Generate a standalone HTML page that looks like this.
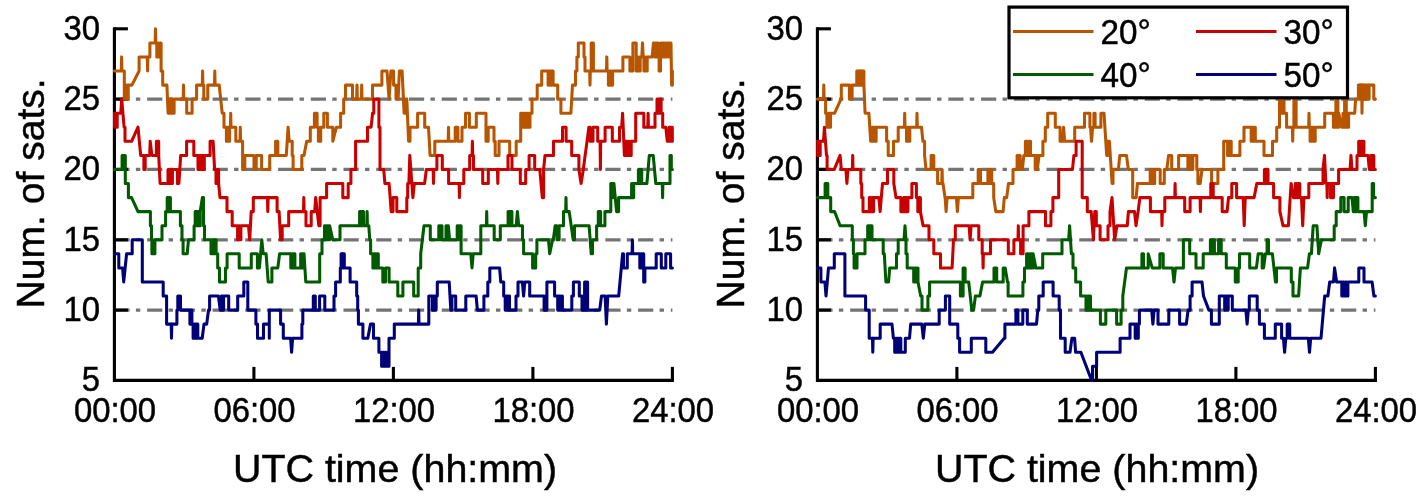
<!DOCTYPE html>
<html><head><meta charset="utf-8"><title>Number of satellites</title>
<style>
html,body{margin:0;padding:0;background:#fff;}
svg{display:block}
text{font-family:"Liberation Sans",Arial,sans-serif;fill:#000;stroke:#000;stroke-width:0.45px}
</style></head><body>
<svg width="1425" height="499" viewBox="0 0 1425 499">
<rect width="1425" height="499" fill="#fff"/>
<line x1="114.4" y1="310.1" x2="672.4" y2="310.1" stroke="#747474" stroke-width="3.2" stroke-dasharray="15.2 6.3 4.4 6.83"/>
<line x1="114.4" y1="239.8" x2="672.4" y2="239.8" stroke="#747474" stroke-width="3.2" stroke-dasharray="15.2 6.3 4.4 6.83"/>
<line x1="114.4" y1="169.4" x2="672.4" y2="169.4" stroke="#747474" stroke-width="3.2" stroke-dasharray="15.2 6.3 4.4 6.83"/>
<line x1="114.4" y1="99.1" x2="672.4" y2="99.1" stroke="#747474" stroke-width="3.2" stroke-dasharray="15.2 6.3 4.4 6.83"/>
<path d="M114.4 27.25V380.4H673.9499999999999" fill="none" stroke="#000" stroke-width="3.1"/>
<line x1="114.4" y1="310.1" x2="127.9" y2="310.1" stroke="#000" stroke-width="3.1"/>
<line x1="114.4" y1="239.8" x2="127.9" y2="239.8" stroke="#000" stroke-width="3.1"/>
<line x1="114.4" y1="169.4" x2="127.9" y2="169.4" stroke="#000" stroke-width="3.1"/>
<line x1="114.4" y1="99.1" x2="127.9" y2="99.1" stroke="#000" stroke-width="3.1"/>
<line x1="114.4" y1="28.8" x2="127.9" y2="28.8" stroke="#000" stroke-width="3.1"/>
<path d="M114.4 71.0H120.3H121.3L121.6 56.9L121.9 71.0H124.3V99.1H125.7V85.1H126.8V99.1H128.2V85.1H131.9L139.1 71.0V56.9H147.3L147.6 71.0L147.9 56.9H149.9V42.9H155.2L155.5 28.8L155.8 42.9H156.8V56.9H157.8V42.9H158.9V56.9H160.0V42.9H161.1V71.0H162.7V85.1H166.9L168.1 113.2H169.4V99.1H170.5V113.2H171.5V99.1H172.6V113.2H174.1V99.1H183.2L183.5 85.1L183.8 99.1H186.7V113.2H192.1V99.1H196.6V85.1H202.3L202.6 71.0L202.9 85.1H203.8V99.1H207.8V85.1H214.5L214.8 71.0L215.1 85.1H219.2L222.2 113.2H224.0V127.2H226.4V141.3H227.5V127.2H228.6V141.3H229.6V127.2H230.4L230.7 113.2L231.0 127.2H235.8V141.3H240.0L240.3 127.2L240.6 141.3H242.6V169.4H244.8V155.4H254.0V169.4H256.2V155.4H261.6V169.4H269.7V155.4H275.6V141.3H277.8V155.4H286.3L288.1 127.2L289.2 141.3H292.2V155.4H293.1V169.4H301.8V155.4H304.0L306.7 141.3H310.3V127.2H314.4V113.2H317.1V127.2H318.4V141.3H320.7V127.2H323.8V113.2H327.4V127.2H332.8V141.3L336.4 127.2H340.6V113.2H343.7V99.1H345.5V85.1H352.5V99.1H356.7L357.0 85.1L357.3 99.1H361.4L361.7 85.1L362.0 99.1H372.5V85.1H381.9V71.0H387.0L389.1 99.1L390.9 71.0H393.1H393.6V85.1H396.0V99.1H398.1L399.4 71.0H402.1L404.1 113.2H405.0V99.1H406.8L408.6 141.3H410.0V127.2H417.6V113.2H424.7V127.2H428.5L430.1 155.4H434.8V141.3H448.2L448.5 127.2L448.8 141.3H455.2V127.2H457.9V141.3H462.0V127.2H465.5V113.2H469.4V127.2H476.3V113.2H486.0V141.3H488.2V127.2H494.0V141.3H495.2V155.4H499.0V141.3H509.7V155.4H516.2V141.3H520.7V113.2H523.0V127.2H524.4V113.2H525.8V127.2H527.2V113.2H528.6V127.2H530.0V113.2H532.0V99.1H537.2V85.1H541.7V71.0H548.1V85.1H549.3V71.0H550.5V85.1H551.7V71.0H553.1V85.1H557.7V99.1H560.9V113.2H570.9L572.5 85.1H574.1H575.5V71.0H576.9V56.9H578.3V42.9H584.0V56.9H585.0V71.0H589.7L590.0 85.1L590.3 71.0H591.2V42.9H593.4V71.0H606.5L606.8 56.9L607.1 71.0H608.4V85.1H609.8V71.0H611.0V85.1H612.6V71.0H622.9V56.9H623.0H629.9V71.0H632.9V42.9H636.2V71.0H638.1V56.9H639.2V71.0H640.2V56.9H641.8L642.5 42.9L643.2 56.9H643.9V71.0H645.1V56.9H645.9V71.0H647.2V56.9H652.1L653.5 42.9H654.6V56.9H655.4V42.9H656.3V56.9H657.1V42.9H658.0V56.9H659.1V71.0H660.5V42.9H661.6V56.9H662.5V42.9H663.3V56.9H664.1V42.9H665.0V56.9H666.1V42.9H668.6V56.9H669.5V42.9H670.3V56.9H671.0V42.9L671.6 85.1H672.4V71.0" fill="none" stroke="#b85500" stroke-width="3.05" stroke-linejoin="round" stroke-linecap="round"/>
<path d="M114.4 113.2H114.7V127.2H115.6V113.2H116.3V127.2H117.2V113.2H120.8L121.7 99.1L124.1 127.2H125.0V141.3H131.6L138.0 127.2L140.7 155.4H143.9V169.4H145.2V155.4H149.7L150.2 141.3L151.9 155.4H156.4V141.3H158.7V155.4L160.1 183.5H168.0V169.4H169.1V183.5H170.2V169.4H171.3V183.5H172.4V169.4H177.4V183.5H178.9L180.7 155.4H186.6V141.3H193.8V155.4H198.0V169.4H199.4V155.4H200.5V169.4H201.8V155.4H203.0V169.4H204.3V155.4H210.1V141.3H213.1L214.6 169.4H216.0V183.5H217.1V169.4H218.6V183.5L220.0 197.6H225.8H227.0V211.6H232.2V225.7H237.6V239.8H238.7V225.7H239.8V239.8H240.9V225.7H248.5L249.7 239.8L251.2 211.6H253.3V197.6H267.5L267.8 211.6L268.1 197.6H277.1V211.6H279.1L280.6 239.8H282.2V225.7H288.7V211.6H303.5L303.8 197.6L304.1 211.6H306.0V225.7H311.2V211.6H314.7L315.7 197.6L318.8 225.7H320.1V197.6H326.6V183.5H342.8V197.6H348.2V183.5H350.9V169.4H355.6V141.3H367.5V127.2H371.1L372.6 113.2H373.8V99.1H378.9V127.2H380.0V169.4H383.7L384.9 183.5H389.1L391.2 211.6H393.0V197.6H396.8V211.6H406.8V197.6H407.7V183.5H408.9L409.8 155.4L412.9 197.6L414.3 183.5H424.6L426.4 169.4H433.2L433.5 183.5L433.8 169.4H436.9V155.4H442.3V169.4H448.6V183.5H459.1L459.4 197.6L459.7 183.5H463.8V169.4H469.7V155.4H472.1L472.4 141.3L472.7 155.4H473.5V169.4H482.7V183.5H488.3V169.4H497.5L497.8 183.5L498.1 169.4H508.0V155.4H512.0V169.4H520.3V183.5H525.7V169.4H529.1V155.4H534.7V169.4H539.8L542.3 197.6H543.6V169.4L545.0 155.4H553.5V141.3H562.5V127.2H566.1V141.3H571.7V155.4H578.9V169.4L581.1 183.5L583.3 169.4L588.9 127.2H590.1V141.3H593.0V127.2H597.7V141.3H600.1L600.4 169.4L600.7 141.3H605.1V127.2H612.3V141.3H619.5V127.2H621.7L622.6 113.2L624.4 155.4H625.7V141.3H627.5V155.4H628.8V141.3H629.7V155.4H631.2V141.3H635.7V113.2H643.8V127.2H647.8L648.1 113.2L648.4 127.2H655.0V113.2H657.0V99.1H658.2V113.2H659.3V99.1H661.1V113.2H662.7V127.2H665.8L667.3 141.3H669.1V127.2H670.5V141.3H671.2V127.2H672.3V141.3H672.4" fill="none" stroke="#c80000" stroke-width="3.05" stroke-linejoin="round" stroke-linecap="round"/>
<path d="M114.4 169.4H122.1V155.4H123.2V169.4H124.1V155.4H125.3V183.5H128.4V197.6H131.6L138.0 211.6H149.7H150.4V225.7H151.5V239.8H151.9V253.8H154.9V239.8H162.0V225.7H165.6V211.6H167.2V197.6H168.3V211.6H169.4V197.6H170.4V211.6H180.4V225.7H182.0V239.8H183.1V253.8H187.2L188.5 239.8H194.1V225.7H195.2V211.6H196.6V225.7H197.9V211.6H199.1V225.7H200.2V211.6L202.4 197.6H203.5V225.7H204.5V239.8H210.1H211.0V253.8H212.5V239.8H213.7V253.8H215.0V239.8H216.1V253.8H217.7V267.9H219.5V282.0H225.5V267.9H227.1V253.8H239.2V267.9H251.3V253.8H257.4V267.9H259.4L261.8 239.8L263.2 253.8H266.1L268.2 282.0H271.9V267.9H277.8L279.6 253.8H290.8V267.9H291.9V253.8H293.0V267.9H294.0V253.8H294.9V267.9H300.7V253.8H302.2V267.9H303.2V253.8H304.0L305.8 282.0H319.7V253.8H322.0V239.8H324.5V225.7H326.0V239.8H327.1V225.7H328.3V239.8H329.6V225.7L332.8 239.8H340.0V225.7H359.6V211.6H360.8V225.7H361.9V211.6H363.5V225.7H366.8L367.1 211.6L367.4 225.7H368.8L369.8 239.8H370.6V253.8H372.9V267.9H374.2V253.8H375.6V267.9H376.7V253.8H378.3V267.9H382.8V282.0H385.5V267.9H389.1V282.0H397.8V296.0H402.9V282.0H413.7V296.0H418.2V267.9H420.7V253.8L424.0 225.7H430.3V239.8H438.8V225.7H440.2V239.8H441.1V225.7H442.0V239.8H446.0V225.7H447.4V239.8H448.3V225.7L449.6 239.8H457.2V225.7H458.4V239.8H459.5V225.7H461.1V253.8H470.8L472.0 267.9L473.2 253.8H480.8V225.7H486.4L486.7 211.6L487.0 225.7H494.2V239.8H500.3V225.7H508.1V211.6H509.7V225.7H510.4V211.6H511.9V225.7H516.2L517.4 211.6L518.7 225.7H522.5V239.8H523.6V253.8H532.6V267.9H535.7V253.8H536.9V239.8H548.5L549.7 253.8L552.6 239.8H553.3L555.2 225.7H557.0V239.8H559.1V225.7H563.5V211.6H565.7L566.0 197.6L566.3 211.6H569.2L573.2 239.8H574.5V225.7H589.1L591.2 253.8H592.5V239.8H596.6V225.7H598.3V211.6H600.6V225.7H604.9V211.6H609.4H610.8V183.5H612.1V197.6H613.0V183.5H613.9L616.6 211.6H618.6V197.6H631.6V183.5H632.7V197.6H633.7V183.5H638.4V169.4H639.5V183.5H640.4V169.4H641.7V183.5H646.9L649.3 155.4H653.2L655.8 183.5H662.3L662.6 197.6L662.9 183.5H670.0V155.4H671.3V169.4H672.4" fill="none" stroke="#005a00" stroke-width="3.05" stroke-linejoin="round" stroke-linecap="round"/>
<path d="M114.4 253.8H118.8V267.9H122.6L123.7 282.0L126.6 253.8H132.2V239.8H142.3V282.0H163.2V296.0H166.6V324.1H171.2L171.5 338.2L171.8 324.1H176.9V310.1H177.8V296.0H180.5V310.1H189.9V324.1H191.0V310.1H191.9V324.1H193.1V338.2H194.4V324.1H195.5V338.2H196.8V324.1H197.8V338.2H202.2L204.0 324.1H206.7L208.5 310.1H209.6V296.0H218.4L220.2 310.1H221.3V296.0H222.4V310.1H223.6V296.0H228.7V310.1H237.7V296.0H243.8V282.0H247.8V310.1H255.9V324.1H257.5V338.2H263.5V324.1H269.3V310.1V324.1V338.2V324.1V310.1H280.6V324.1H283.3V338.2H290.6L291.6 352.3L292.6 338.2H301.9V324.1H302.8V310.1H313.3V296.0H315.3V310.1H319.6V296.0H324.8V310.1H334.0V296.0H335.6V282.0H340.3V267.9H341.1V253.8H342.1V267.9H343.0V253.8H344.3V267.9H350.1V282.0H356.7V296.0H357.7V310.1H358.4V324.1H362.9V338.2H367.8L370.5 324.1H373.5V338.2H378.9V352.3H381.6V366.3H382.9V352.3H383.8V366.3H384.9V352.3H386.0V366.3H387.1V352.3H388.0V366.3H389.0V338.2H394.3V324.1H418.4L418.7 310.1L419.0 324.1H428.8V296.0H432.4V310.1H433.7V296.0H435.0V310.1H436.1V296.0H437.3V282.0H449.2L450.8 310.1H451.9V296.0H455.7V310.1H465.8V296.0H476.1L477.4 310.1H483.9V296.0H487.8V282.0H489.8V267.9H499.6L500.8 282.0H503.7V296.0H505.2V310.1H506.4V296.0H507.5V310.1H508.6V296.0H509.5V310.1H516.0V296.0H518.0V282.0H522.4L523.6 296.0L524.8 282.0H529.7V296.0H544.1V310.1H545.2V296.0H546.1V310.1H546.9V282.0H554.6V296.0H557.7V310.1H558.9V296.0H560.0V310.1H561.1V296.0H562.4V310.1H571.8V296.0H573.4V282.0H579.3V296.0H582.0V310.1H583.1V296.0H584.0V310.1H584.6V282.0H585.6V310.1H586.5V282.0H587.6V310.1H599.7L601.5 296.0H605.1L606.4 324.1L607.8 296.0H618.7L622.6 253.8H623.5V267.9H627.3V253.8H632.1L632.4 239.8L632.7 253.8H639.8V267.9H640.8V253.8H641.9V267.9H643.0V253.8H643.7V282.0H644.9V267.9H656.2V253.8H661.3V267.9H665.8V253.8H670.6V267.9H672.4" fill="none" stroke="#000078" stroke-width="3.05" stroke-linejoin="round" stroke-linecap="round"/>
<text transform="translate(100.1 391.1) scale(0.936 1)" font-size="35.1" text-anchor="end">5</text>
<text transform="translate(100.1 320.8) scale(0.936 1)" font-size="35.1" text-anchor="end">10</text>
<text transform="translate(100.1 250.5) scale(0.936 1)" font-size="35.1" text-anchor="end">15</text>
<text transform="translate(100.1 180.1) scale(0.936 1)" font-size="35.1" text-anchor="end">20</text>
<text transform="translate(100.1 109.8) scale(0.936 1)" font-size="35.1" text-anchor="end">25</text>
<text transform="translate(100.1 39.5) scale(0.936 1)" font-size="35.1" text-anchor="end">30</text>
<text transform="translate(115.0 421.8) scale(0.936 1)" font-size="35.1" text-anchor="middle">00:00</text>
<line x1="253.9" y1="380.4" x2="253.9" y2="366.9" stroke="#000" stroke-width="3.1"/>
<text transform="translate(254.5 421.8) scale(0.936 1)" font-size="35.1" text-anchor="middle">06:00</text>
<line x1="393.4" y1="380.4" x2="393.4" y2="366.9" stroke="#000" stroke-width="3.1"/>
<text transform="translate(394.0 421.8) scale(0.936 1)" font-size="35.1" text-anchor="middle">12:00</text>
<line x1="532.9" y1="380.4" x2="532.9" y2="366.9" stroke="#000" stroke-width="3.1"/>
<text transform="translate(533.5 421.8) scale(0.936 1)" font-size="35.1" text-anchor="middle">18:00</text>
<line x1="672.4" y1="380.4" x2="672.4" y2="366.9" stroke="#000" stroke-width="3.1"/>
<text transform="translate(673.0 421.8) scale(0.936 1)" font-size="35.1" text-anchor="middle">24:00</text>
<text transform="translate(395.0 481.8) scale(1.035 1)" font-size="38.1" text-anchor="middle">UTC time (hh:mm)</text>
<text transform="translate(43.8 193.4) rotate(-90) scale(1.026 1)" font-size="38.1" text-anchor="middle">Num. of sats.</text>
<line x1="817.4" y1="310.1" x2="1375.4" y2="310.1" stroke="#747474" stroke-width="3.2" stroke-dasharray="15.2 6.3 4.4 6.83"/>
<line x1="817.4" y1="239.8" x2="1375.4" y2="239.8" stroke="#747474" stroke-width="3.2" stroke-dasharray="15.2 6.3 4.4 6.83"/>
<line x1="817.4" y1="169.4" x2="1375.4" y2="169.4" stroke="#747474" stroke-width="3.2" stroke-dasharray="15.2 6.3 4.4 6.83"/>
<line x1="817.4" y1="99.1" x2="1375.4" y2="99.1" stroke="#747474" stroke-width="3.2" stroke-dasharray="15.2 6.3 4.4 6.83"/>
<path d="M817.4 27.25V380.4H1376.95" fill="none" stroke="#000" stroke-width="3.1"/>
<line x1="817.4" y1="310.1" x2="830.9" y2="310.1" stroke="#000" stroke-width="3.1"/>
<line x1="817.4" y1="239.8" x2="830.9" y2="239.8" stroke="#000" stroke-width="3.1"/>
<line x1="817.4" y1="169.4" x2="830.9" y2="169.4" stroke="#000" stroke-width="3.1"/>
<line x1="817.4" y1="99.1" x2="830.9" y2="99.1" stroke="#000" stroke-width="3.1"/>
<line x1="817.4" y1="28.8" x2="830.9" y2="28.8" stroke="#000" stroke-width="3.1"/>
<path d="M817.4 99.1H823.5L823.8 85.1L824.1 99.1H825.6V113.2H826.9V127.2H828.2V113.2H829.2V127.2H830.5V113.2H834.6L841.0 99.1H841.3V85.1H849.4V99.1H852.1V85.1H856.8V71.0H857.9V85.1H858.8V71.0H859.9V85.1H860.8V71.0H861.9V85.1H862.8V71.0H863.9V85.1L865.1 113.2H868.9L870.7 141.3H872.0V127.2H873.1V141.3H874.2V127.2H875.2V141.3H876.1V127.2H886.6V141.3H888.2V155.4H893.5V141.3H898.2V127.2H904.4L904.7 113.2L905.0 127.2H906.5V141.3H907.6V127.2H908.5V141.3H909.8V127.2H916.7L917.0 113.2L917.3 127.2H921.5L922.9 141.3H924.6V155.4L926.0 169.4H931.1V155.4H933.8V169.4H937.6V183.5H941.8L942.1 169.4L942.4 183.5H943.0L945.0 197.6H945.1L946.1 211.6L947.1 197.6H956.4L957.4 211.6L958.4 197.6H972.8V183.5H978.2V169.4H980.5V183.5H987.9V169.4H989.2V183.5H990.3V169.4H991.7V183.5H993.7V197.6L995.8 211.6H1003.1L1004.3 197.6H1006.7L1008.5 183.5H1013.0V169.4H1017.1V155.4H1018.2V169.4H1019.1V155.4H1020.2V169.4H1022.4L1023.8 155.4H1025.4V141.3H1026.7V155.4H1027.8V141.3H1028.9V155.4H1029.8V141.3H1030.5V155.4H1035.2V169.4H1036.4V155.4H1037.3V169.4L1039.1 155.4H1042.9V141.3H1045.3V127.2H1047.7V113.2H1055.3V127.2H1060.1V141.3H1062.6L1063.6 127.2L1064.6 141.3H1074.7V127.2H1084.5V113.2H1089.9V127.2H1090.6L1091.5 141.3L1092.6 127.2H1093.9V113.2H1095.1V127.2H1100.9V113.2H1104.0L1106.7 155.4H1107.6V141.3H1109.4L1112.1 183.5H1113.0V169.4H1118.4L1119.8 155.4H1126.5L1128.3 169.4H1132.7V197.6H1136.2L1137.4 183.5H1150.2V169.4H1151.5V183.5H1152.6V169.4H1153.7V183.5H1154.7V169.4H1160.2V183.5H1164.3V169.4H1166.8L1168.6 155.4H1171.7V169.4H1178.6V155.4H1187.9V169.4H1189.0V155.4H1190.1V169.4H1191.2V155.4H1192.1V169.4H1192.8V155.4H1196.8V169.4H1197.9V183.5H1200.2L1202.0 169.4H1211.6V183.5H1217.9V169.4H1223.7V141.3H1227.6V155.4H1228.7V141.3H1229.8V155.4H1230.5V141.3H1231.2V155.4H1239.9V141.3H1244.0V127.2H1251.2V141.3H1252.3V127.2H1253.4V141.3H1254.4V127.2H1255.3V141.3H1264.0V155.4H1272.5V141.3H1276.7V127.2H1279.5V99.1H1281.5V113.2H1282.6V99.1H1284.0V113.2H1286.6V127.2H1292.4L1292.7 141.3L1293.0 127.2H1293.9V99.1H1296.1V127.2H1308.7L1309.0 113.2L1309.3 127.2H1310.1V141.3H1311.3V127.2H1312.1V141.3H1313.2V127.2H1314.1V141.3H1315.2V127.2H1324.7V113.2H1333.4V127.2H1334.3V113.2H1335.1V127.2H1335.9V99.1H1337.9V127.2H1338.8V113.2L1341.8 127.2H1343.0V113.2H1343.9V127.2H1344.6V99.1H1346.3V127.2H1347.2V113.2H1348.0V127.2H1348.6V113.2H1354.7L1355.6 99.1H1358.4V85.1H1359.4V99.1H1360.1V85.1H1360.8V99.1H1361.3V85.1H1361.7L1362.0 113.2L1362.3 85.1H1362.9V99.1H1363.7V85.1H1364.9V99.1H1366.0V85.1H1368.2V99.1H1369.1V85.1H1373.8V99.1H1375.4" fill="none" stroke="#b85500" stroke-width="3.05" stroke-linejoin="round" stroke-linecap="round"/>
<path d="M817.4 141.3H817.7V155.4H818.6V141.3H819.3V155.4H820.2V141.3H823.5L824.4 127.2L826.5 155.4H827.1V169.4H834.3L840.1 155.4L841.3 169.4H845.9L846.9 183.5L847.9 169.4H852.4L852.7 155.4L853.0 169.4H860.8V183.5H861.7V197.6H863.0V211.6H869.3V197.6H870.4V211.6H871.5V197.6H872.6V211.6H873.6V197.6H878.9L880.1 211.6L882.5 183.5H887.5V169.4H893.8V183.5L896.0 197.6H900.9V211.6H903.6V197.6H904.7V211.6H905.7V197.6H906.8V211.6H907.9V197.6H911.9V183.5H916.4V197.6H917.8V211.6H918.9V197.6H920.4V211.6L923.1 225.7H929.0V239.8H933.8V253.8H940.5V267.9H952.1L953.5 239.8H955.3V225.7H969.1L970.1 239.8L971.1 225.7H978.8V239.8H982.2V253.8H982.8L983.1 267.9L983.4 253.8H990.5V239.8H1008.3V253.8H1013.9V239.8H1018.0L1018.3 225.7L1018.6 239.8H1020.6V253.8H1023.1V225.7H1028.9V211.6H1045.5V225.7H1050.9V211.6H1052.9V197.6H1058.7V169.4H1072.5L1073.9 155.4H1076.1V141.3H1082.2V197.6H1087.3V211.6H1091.2L1093.4 239.8L1094.8 211.6H1096.3V225.7H1100.1V239.8H1108.0V225.7H1110.0V211.6L1112.0 197.6L1114.7 239.8L1116.9 225.7H1127.3L1128.4 211.6H1134.5L1136.0 225.7L1138.1 211.6L1139.9 197.6H1150.4V211.6H1161.7L1162.0 225.7L1162.3 211.6H1164.8V197.6H1174.8L1175.1 183.5L1175.4 197.6H1184.7V211.6H1190.1V197.6H1200.1L1200.4 211.6L1200.7 197.6H1210.8V183.5H1213.2V197.6H1222.2V211.6H1227.1L1228.5 197.6H1231.8V183.5H1236.6V197.6H1243.2L1244.2 225.7L1245.2 197.6H1254.1L1256.8 183.5H1264.4V169.4H1265.5V183.5H1266.4V169.4H1268.0V183.5H1273.6V197.6H1279.9V211.6L1283.0 225.7H1288.4L1291.1 183.5L1293.5 197.6H1295.3V183.5H1296.9V197.6H1297.8V183.5H1299.8V197.6H1301.5L1302.7 225.7L1303.9 197.6H1308.8V183.5H1323.0V169.4L1324.5 155.4L1325.9 183.5H1326.9L1327.2 197.6L1327.5 183.5H1330.6V197.6H1331.5V183.5H1332.4V197.6H1333.5V183.5H1338.6V169.4H1350.1L1351.0 155.4L1351.9 169.4H1357.0V155.4H1358.7V141.3H1360.0V155.4H1361.0V141.3H1362.3V155.4H1363.1V141.3H1363.9V155.4H1368.0L1369.3 169.4H1370.6V155.4H1371.6V169.4H1372.5V155.4H1373.8V169.4H1375.4" fill="none" stroke="#c80000" stroke-width="3.05" stroke-linejoin="round" stroke-linecap="round"/>
<path d="M817.4 197.6H825.1V183.5H826.2V197.6H826.9V183.5H827.8V197.6H830.7V211.6H834.6L840.1 225.7H852.3V239.8H853.4V253.8H854.1V267.9H857.0V253.8H865.0V239.8H867.7V225.7H869.3V239.8H870.2V225.7H872.0V239.8H883.2V253.8H884.3L885.9 282.0H888.6L889.7 267.9H896.5V253.8H898.2V239.8H904.0L905.0 225.7L906.0 239.8V253.8H907.2V267.9H913.7V282.0H914.8V267.9H915.8V282.0H916.9V267.9H918.0V282.0L920.7 296.0H922.0V310.1H927.9V296.0H929.6V282.0H960.4V296.0H963.1V267.9H965.1V282.0H968.7L971.8 310.1H973.6L975.4 296.0H979.9L982.6 282.0H994.0V267.9H996.7V282.0H1003.2V267.9H1005.2L1007.5 282.0H1008.1V296.0H1022.9V282.0H1024.5V267.9H1026.6V253.8H1028.1V267.9H1029.2V253.8H1030.3V267.9H1031.3V253.8H1032.4V267.9H1033.1V253.8L1035.8 267.9H1042.7V253.8H1062.0V239.8H1068.7L1069.6 225.7L1071.4 253.8H1073.0V267.9H1075.7V282.0H1080.6V296.0H1086.0V310.1H1087.4V296.0H1088.5V310.1H1089.4V296.0H1090.5V310.1H1100.4V324.1H1105.8V310.1H1116.6V324.1H1121.1V310.1H1122.8V296.0L1126.5 267.9H1141.9V253.8H1143.5V267.9H1148.2V253.8L1152.2 267.9H1159.9V253.8H1163.2V267.9H1172.5L1174.0 282.0L1175.5 267.9H1183.4V239.8H1189.7V253.8H1196.0V267.9H1203.2V253.8H1210.4V239.8H1211.7V253.8H1212.8V239.8H1214.4V253.8H1218.6V239.8H1221.2V253.8H1226.3V267.9H1235.3V282.0H1238.2V267.9H1239.5V253.8H1249.7V267.9H1256.4L1258.2 253.8H1262.2V267.9H1263.6L1265.4 253.8H1267.1V239.8H1268.5V253.8H1272.4L1275.5 282.0H1276.5V267.9H1291.3V282.0H1293.0V296.0H1298.6L1300.4 267.9H1307.6L1309.4 253.8H1311.4L1313.2 225.7H1316.9L1318.7 253.8L1321.4 239.8H1334.2V225.7H1336.2V211.6H1340.8V197.6H1344.1V211.6H1348.2V197.6H1352.0L1353.3 211.6H1354.2V197.6H1355.5V211.6H1356.5V197.6H1357.9V211.6H1364.1L1365.3 225.7L1366.5 211.6H1372.2V183.5H1373.6V197.6H1375.4" fill="none" stroke="#005a00" stroke-width="3.05" stroke-linejoin="round" stroke-linecap="round"/>
<path d="M817.4 267.9H820.9V282.0H824.9L826.0 296.0L828.5 267.9H834.3V253.8H844.9V296.0H865.6V310.1H869.2V338.2H872.5L872.8 352.3L873.1 338.2H880.2V324.1H892.0L893.4 338.2H894.7V352.3H895.7V338.2H896.6V352.3H897.7V338.2H898.6V352.3H899.5V338.2H900.8V352.3H905.3V338.2H909.5L910.7 324.1H921.8L923.3 338.2L924.8 324.1H939.2V310.1H945.4V296.0H949.7V324.1H957.8V338.2H959.6V352.3H971.3V338.2H985.8V352.3H992.5L1004.2 338.2H1004.9V324.1H1015.9V310.1H1017.9V324.1H1022.8V310.1H1027.3V324.1H1036.5L1037.8 310.1H1038.8V296.0H1043.2V282.0H1053.1V296.0H1059.2V310.1H1060.5V338.2H1065.2V352.3H1070.0L1071.9 338.2H1074.6L1075.6 352.3H1080.9L1091.6 380.4H1092.5V366.3H1096.6V352.3H1120.1V338.2H1130.0V324.1H1135.2V338.2H1136.3V324.1H1137.2V338.2H1138.3V324.1H1139.4V310.1H1151.7L1152.9 324.1L1154.1 310.1H1158.0V324.1H1168.8V310.1H1179.6V324.1H1186.3L1188.1 310.1H1190.1V296.0H1192.1V282.0H1202.0L1203.5 296.0L1208.9 310.1H1211.4V324.1H1219.3V296.0H1224.7V310.1H1225.8V296.0H1226.9V310.1H1228.2V296.0H1232.3V310.1H1245.9L1247.1 324.1L1248.3 310.1H1249.3V296.0H1257.2V310.1H1259.4V324.1H1264.4V338.2H1275.3V324.1H1281.6V338.2H1283.4L1284.6 352.3L1285.8 338.2H1287.2V324.1H1289.7V338.2H1308.3L1309.5 352.3L1310.7 338.2H1321.0L1324.7 296.0H1327.9L1329.7 282.0H1333.5L1334.6 267.9L1336.6 282.0H1341.8V296.0H1343.1V282.0H1344.2V296.0H1345.2V282.0H1346.3V296.0H1347.9V282.0H1358.8V267.9H1364.0V282.0H1372.1L1373.9 296.0H1375.4" fill="none" stroke="#000078" stroke-width="3.05" stroke-linejoin="round" stroke-linecap="round"/>
<text transform="translate(803.1 391.1) scale(0.936 1)" font-size="35.1" text-anchor="end">5</text>
<text transform="translate(803.1 320.8) scale(0.936 1)" font-size="35.1" text-anchor="end">10</text>
<text transform="translate(803.1 250.5) scale(0.936 1)" font-size="35.1" text-anchor="end">15</text>
<text transform="translate(803.1 180.1) scale(0.936 1)" font-size="35.1" text-anchor="end">20</text>
<text transform="translate(803.1 109.8) scale(0.936 1)" font-size="35.1" text-anchor="end">25</text>
<text transform="translate(803.1 39.5) scale(0.936 1)" font-size="35.1" text-anchor="end">30</text>
<text transform="translate(818.0 421.8) scale(0.936 1)" font-size="35.1" text-anchor="middle">00:00</text>
<line x1="956.9" y1="380.4" x2="956.9" y2="366.9" stroke="#000" stroke-width="3.1"/>
<text transform="translate(957.5 421.8) scale(0.936 1)" font-size="35.1" text-anchor="middle">06:00</text>
<line x1="1096.4" y1="380.4" x2="1096.4" y2="366.9" stroke="#000" stroke-width="3.1"/>
<text transform="translate(1097.0 421.8) scale(0.936 1)" font-size="35.1" text-anchor="middle">12:00</text>
<line x1="1235.9" y1="380.4" x2="1235.9" y2="366.9" stroke="#000" stroke-width="3.1"/>
<text transform="translate(1236.5 421.8) scale(0.936 1)" font-size="35.1" text-anchor="middle">18:00</text>
<line x1="1375.4" y1="380.4" x2="1375.4" y2="366.9" stroke="#000" stroke-width="3.1"/>
<text transform="translate(1376.0 421.8) scale(0.936 1)" font-size="35.1" text-anchor="middle">24:00</text>
<text transform="translate(1097.0 481.8) scale(1.035 1)" font-size="38.1" text-anchor="middle">UTC time (hh:mm)</text>
<text transform="translate(743.8 193.4) rotate(-90) scale(1.026 1)" font-size="38.1" text-anchor="middle">Num. of sats.</text>
<rect x="1009" y="7.1" width="338.5" height="90.7" fill="#fff" stroke="#000" stroke-width="3.2"/>
<line x1="1013" y1="31.5" x2="1093.5" y2="31.5" stroke="#b85500" stroke-width="3.05"/>
<text transform="translate(1100.5 43.6) scale(0.95 1)" font-size="35.0" text-anchor="start">20°</text>
<line x1="1196" y1="31.5" x2="1276.5" y2="31.5" stroke="#c80000" stroke-width="3.05"/>
<text transform="translate(1283.5 43.6) scale(0.95 1)" font-size="35.0" text-anchor="start">30°</text>
<line x1="1013" y1="74.5" x2="1093.5" y2="74.5" stroke="#005a00" stroke-width="3.05"/>
<text transform="translate(1100.5 86.6) scale(0.95 1)" font-size="35.0" text-anchor="start">40°</text>
<line x1="1196" y1="74.5" x2="1276.5" y2="74.5" stroke="#000078" stroke-width="3.05"/>
<text transform="translate(1283.5 86.6) scale(0.95 1)" font-size="35.0" text-anchor="start">50°</text>
</svg>
</body></html>
